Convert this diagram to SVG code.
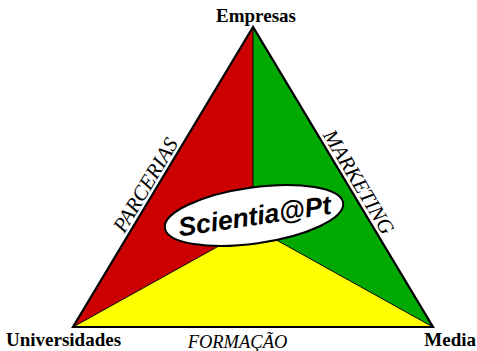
<svg xmlns="http://www.w3.org/2000/svg" width="477" height="351" viewBox="0 0 477 351">
  <style>
    .vlabel { font-family: "Liberation Serif", "Times New Roman", serif; font-weight: bold; font-size: 19px; fill: #000; }
    .elabel { font-family: "Liberation Serif", "Times New Roman", serif; font-style: italic; font-size: 18.5px; fill: #000; }
    .side { font-size: 21px; }
    .div { stroke: #000; stroke-width: 1; fill: none; }
  </style>
  <rect width="477" height="351" fill="#fff"/>
  <g id="sectors">
    <polygon id="red" points="253,27 73,327 253,227" fill="#CC0000"/>
    <polygon id="green" points="253,27 433,327 253,227" fill="#00AA00"/>
    <polygon id="yellow" points="73,327 433,327 253,227" fill="#FFFF00"/>
  </g>
  <g id="connectors">
    <line class="div" x1="253" y1="27" x2="253" y2="227"/>
    <line class="div" x1="73" y1="327" x2="253" y2="227"/>
    <line class="div" x1="433" y1="327" x2="253" y2="227"/>
    <polygon points="253,27 73,327 433,327" fill="none" stroke="#000" stroke-width="2.2" stroke-linejoin="miter"/>
  </g>
  <g id="empresas"><text class="vlabel" x="256" y="22" text-anchor="middle">Empresas</text></g>
  <g id="universidades"><text class="vlabel" x="6" y="346">Universidades</text></g>
  <g id="media"><text class="vlabel" x="476" y="346" text-anchor="end">Media</text></g>
  <g id="parcerias"><text class="elabel side" transform="translate(155,190.6) rotate(-59.04)" x="0" y="-4" text-anchor="middle">PARCERIAS</text></g>
  <g id="marketing"><text class="elabel side" transform="translate(349.3,187.6) rotate(59.04)" x="0" y="-4" text-anchor="middle">MARKETING</text></g>
  <g id="formacao"><text class="elabel" x="237.5" y="348" text-anchor="middle">FORMAÇÃO</text></g>
  <g id="scientia">
    <ellipse cx="254" cy="215.5" rx="90" ry="28" transform="rotate(-8 254 215.5)" fill="#fff" stroke="#000" stroke-width="2"/>
    <text transform="translate(256,225) rotate(-8.5)" x="0" y="0" text-anchor="middle" font-family="Liberation Sans, Arial, sans-serif" font-weight="bold" font-style="italic" font-size="26.5px" fill="#000">Scientia@Pt</text>
  </g>
</svg>
